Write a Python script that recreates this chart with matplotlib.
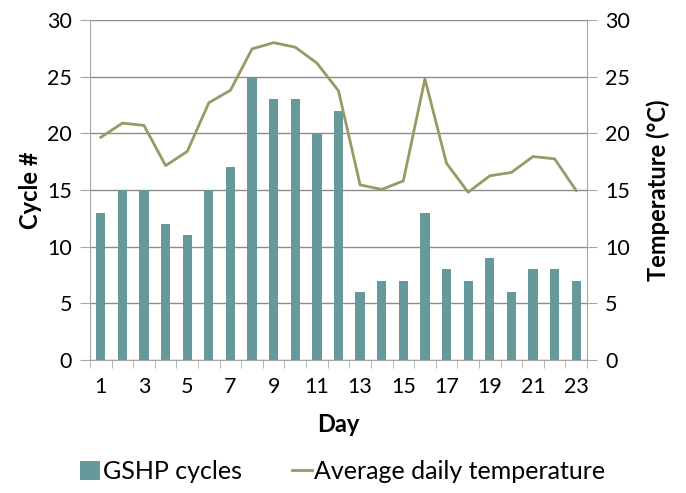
import numpy as np
import matplotlib.pyplot as plt

days = list(range(1, 24))
cycles = [13, 15, 15, 12, 11, 15, 17, 25, 23, 23, 20, 22, 6, 7, 7, 13, 8, 7, 9, 6, 8, 8, 7]
temps = [19.65, 20.9, 20.7, 17.15, 18.4, 22.7, 23.8, 27.45, 28.0, 27.6, 26.2, 23.75,
         15.45, 15.05, 15.8, 24.8, 17.35, 14.8, 16.25, 16.55, 17.95, 17.75, 14.95]
xlabels = [str(d) if d % 2 == 1 else "" for d in days]

plt.rcParams['font.family'] = ['Lato', 'DejaVu Sans']

bar_col = "#669999"
line_col = "#999966"
axis_col = "#a6a6a6"
grid_col = "#8c8c8c"

fig = plt.figure(figsize=(6.86, 4.93), dpi=100)
ax = fig.add_axes([90 / 686, 1 - 360 / 493, (587 - 90) / 686, 340 / 493])
ax2 = ax.twinx()

x = np.arange(len(days))
ax.bar(x, cycles, width=0.43, color=bar_col, label="GSHP cycles", zorder=3)
ax2.plot(x, temps, color=line_col, lw=2, label="Average daily temperature", zorder=3)

ax.set_xlim(-0.5, len(days) - 0.5)
ax.set_ylim(0, 30)
ax2.set_ylim(0, 30)
ax.set_yticks(range(0, 31, 5))
ax2.set_yticks(range(0, 31, 5))
ax.yaxis.grid(True, color=grid_col, lw=1)
ax.set_axisbelow(True)

ax.set_xticks(x)
ax.set_xticklabels(xlabels)
ax.set_xticks(np.arange(-0.5, len(days), 1), minor=True)
ax.tick_params(axis="x", which="major", length=0, labelsize=15.5, pad=12)
ax.tick_params(axis="x", which="minor", length=6, color=axis_col)
ax.tick_params(axis="y", length=7, color=axis_col, labelsize=15.5, pad=6)
ax2.tick_params(axis="y", length=7, color=axis_col, labelsize=15.5, pad=6)

for a in (ax, ax2):
    for s in a.spines.values():
        s.set_visible(False)
ax.spines["left"].set_visible(True)
ax.spines["left"].set_color(axis_col)
ax.spines["bottom"].set_visible(True)
ax.spines["bottom"].set_color(axis_col)
ax2.spines["right"].set_visible(True)
ax2.spines["right"].set_color(axis_col)

ax.set_xlabel("Day", fontsize=17, fontweight="bold", labelpad=12)
ax.set_ylabel("Cycle #", fontsize=17, fontweight="bold", labelpad=4)
ax2.set_ylabel("Temperature (°C)", fontsize=17, fontweight="bold", labelpad=12)

h1, l1 = ax.get_legend_handles_labels()
h2, l2 = ax2.get_legend_handles_labels()
fig.legend(h1 + h2, l1 + l2, loc="lower center", bbox_to_anchor=(0.5, -0.025), ncol=2,
           frameon=False, fontsize=18, handlelength=0.8, handleheight=0.8,
           handletextpad=0.1, columnspacing=2.0)

plt.savefig("out.png", dpi=100)
